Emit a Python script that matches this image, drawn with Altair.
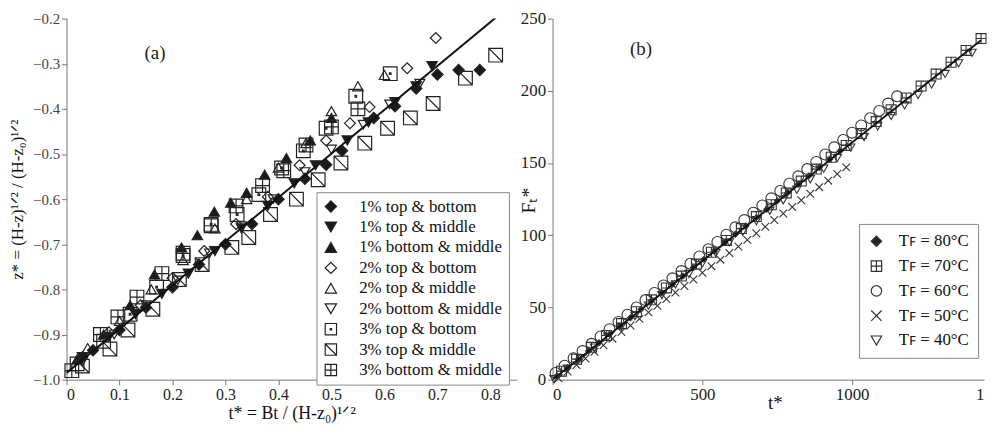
import altair as alt
import pandas as pd

# ---------------- Panel (a) data ----------------
A_NAMES = ["1% top & bottom", "1% top & middle", "1% bottom & middle",
           "2% top & bottom", "2% top & middle", "2% bottom & middle",
           "3% top & bottom", "3% top & middle", "3% bottom & middle"]

A1_T = [0.05, 0.10, 0.15, 0.20, 0.25, 0.30, 0.35, 0.40, 0.45, 0.49, 0.52, 0.58, 0.62, 0.66, 0.70, 0.74, 0.78]
A1_Z = [-0.935, -0.89, -0.84, -0.795, -0.745, -0.70, -0.655, -0.60, -0.555, -0.524, -0.493, -0.42, -0.394, -0.355, -0.324, -0.314, -0.314]

A2_T = [0.03, 0.08, 0.13, 0.18, 0.23, 0.28, 0.33, 0.38, 0.43, 0.47, 0.53, 0.57, 0.62, 0.66, 0.69]
A2_Z = [-0.95, -0.905, -0.855, -0.81, -0.765, -0.715, -0.665, -0.615, -0.565, -0.525, -0.47, -0.43, -0.385, -0.35, -0.305]

A3_T = [0.02, 0.07, 0.12, 0.166, 0.217, 0.247, 0.279, 0.31, 0.34, 0.374, 0.415, 0.46, 0.5]
A3_Z = [-0.955, -0.9, -0.835, -0.767, -0.707, -0.68, -0.628, -0.608, -0.586, -0.546, -0.509, -0.47, -0.42]

A4_T = [0.03, 0.08, 0.14, 0.2, 0.26, 0.32, 0.38, 0.44, 0.49, 0.535, 0.572, 0.643, 0.697]
A4_Z = [-0.95, -0.895, -0.835, -0.775, -0.715, -0.655, -0.595, -0.525, -0.47, -0.432, -0.396, -0.31, -0.243]

A5_T = [0.04, 0.1, 0.16, 0.22, 0.28, 0.34, 0.4, 0.452, 0.5, 0.55, 0.6]
A5_Z = [-0.93, -0.87, -0.8, -0.735, -0.665, -0.6, -0.53, -0.476, -0.405, -0.35, -0.325]

A6_T = [0.03, 0.09, 0.15, 0.21, 0.27, 0.33, 0.39, 0.45, 0.5, 0.56, 0.61, 0.667]
A6_Z = [-0.96, -0.9, -0.835, -0.78, -0.72, -0.66, -0.6, -0.54, -0.49, -0.435, -0.39, -0.344]

A7_T = [0.02, 0.07, 0.12, 0.17, 0.22, 0.273, 0.322, 0.363, 0.406, 0.447, 0.49, 0.546, 0.611]
A7_Z = [-0.965, -0.915, -0.855, -0.795, -0.725, -0.656, -0.634, -0.59, -0.531, -0.493, -0.443, -0.372, -0.322]

A8_T = [0.03, 0.082, 0.116, 0.163, 0.213, 0.256, 0.312, 0.344, 0.385, 0.434, 0.475, 0.518, 0.563, 0.606, 0.649, 0.692, 0.753, 0.81]
A8_Z = [-0.97, -0.932, -0.89, -0.844, -0.778, -0.745, -0.707, -0.685, -0.634, -0.6, -0.557, -0.52, -0.476, -0.443, -0.42, -0.388, -0.332, -0.281]

A9_T = [0.01, 0.064, 0.097, 0.133, 0.18, 0.22, 0.273, 0.32, 0.37, 0.41, 0.452, 0.5, 0.55]
A9_Z = [-0.98, -0.9, -0.861, -0.817, -0.765, -0.72, -0.659, -0.615, -0.57, -0.537, -0.48, -0.44, -0.4]

FIT_A_T = [0.0, 0.81]
FIT_A_Z = [-0.985, -0.198]

A_X_TICKS = [0, 0.1, 0.2, 0.3, 0.4, 0.5, 0.6, 0.7, 0.8]
A_Y_TICKS = [-1.0, -0.9, -0.8, -0.7, -0.6, -0.5, -0.4, -0.3, -0.2]

# ---------------- Panel (b) data ----------------
B_NAMES = ["T\ua730 = 80°C", "T\ua730 = 70°C", "T\ua730 = 60°C", "T\ua730 = 50°C", "T\ua730 = 40°C"]

B80_T = [15, 50, 85, 120, 155, 190, 225, 260, 295, 330, 365, 400, 435, 470, 505, 540, 575, 610, 645, 680, 715, 750, 785, 820, 855, 890, 925, 960]
B80_F = [2.5, 8.3, 14.0, 19.8, 25.6, 31.4, 37.1, 42.9, 48.7, 54.5, 60.2, 66.0, 71.8, 77.6, 83.3, 89.1, 94.9, 100.7, 106.4, 112.2, 118.0, 123.8, 129.5, 135.3, 141.1, 146.9, 152.6, 158.4]

B70_T = [30, 80, 130, 180, 230, 280, 330, 380, 430, 480, 530, 580, 630, 680, 730, 780, 830, 880, 930, 980, 1030, 1080, 1130, 1180, 1230, 1280, 1330, 1380, 1430]
B70_F = [5.9, 14.2, 22.4, 30.6, 38.8, 47.1, 55.3, 63.5, 71.7, 80.0, 88.2, 96.4, 104.6, 112.9, 121.1, 129.3, 137.5, 145.8, 154.0, 162.2, 170.4, 178.7, 186.9, 195.1, 203.3, 211.6, 219.8, 228.0, 236.2]

B60_T = [10, 40, 70, 100, 130, 160, 190, 220, 250, 280, 310, 340, 370, 400, 430, 460, 490, 520, 550, 580, 610, 640, 670, 700, 730, 760, 790, 820, 850, 880, 910, 940, 970, 1000, 1030, 1060, 1090, 1120, 1150]
B60_F = [4.7, 9.7, 14.8, 19.8, 24.8, 29.9, 34.9, 40.0, 45.0, 50.0, 55.1, 60.1, 65.2, 70.2, 75.2, 80.3, 85.3, 90.4, 95.4, 100.4, 105.5, 110.5, 115.6, 120.6, 125.6, 130.7, 135.7, 140.8, 145.8, 150.8, 155.9, 160.9, 166.0, 171.0, 176.0, 181.1, 186.1, 191.2, 196.2]

B50_T = [20, 50, 80, 110, 140, 170, 200, 230, 260, 290, 320, 350, 380, 410, 440, 470, 500, 530, 560, 590, 620, 650, 680, 710, 740, 770, 800, 830, 860, 890, 920, 950, 980]
B50_F = [1.0, 5.6, 10.2, 14.7, 19.3, 23.8, 28.4, 33.0, 37.5, 42.1, 46.6, 51.2, 55.8, 60.3, 64.9, 69.4, 74.0, 78.6, 83.1, 87.7, 92.2, 96.8, 101.4, 105.9, 110.5, 115.0, 119.6, 124.2, 128.7, 133.3, 137.8, 142.4, 147.0]

B40_T = [5, 50, 95, 140, 185, 230, 275, 320, 365, 410, 455, 500, 545, 590, 635, 680, 725, 770, 815, 860, 905, 950, 995, 1040, 1085, 1130, 1175, 1220, 1265, 1310, 1355, 1400]
B40_F = [0.3, 7.6, 14.9, 22.2, 29.5, 36.8, 44.1, 51.3, 58.6, 65.9, 73.2, 80.5, 87.8, 95.1, 102.4, 109.7, 117.0, 124.2, 131.5, 138.8, 146.1, 153.4, 160.7, 168.0, 175.3, 182.6, 189.9, 197.1, 204.4, 211.7, 219.0, 226.3]

FIT_B_T = [0, 1430]
FIT_B_F = [0, 235]

B_X_TICKS = [0, 500, 1000, 1440]
B_Y_TICKS = [0, 50, 100, 150, 200, 250]

# ---------------- styling helpers ----------------
SQ = "M-1,-1H1V1H-1Z"
SQ_DOT = SQ + "M-0.12,-0.12H0.12V0.12H-0.12Z"
SQ_DIAG = SQ + "M-1,-1L1,1"
SQ_PLUS = SQ + "M0,-1V1M-1,0H1"
XMARK = "M-1,-1L1,1M-1,1L1,-1"

A_SHAPES = ["diamond", "triangle-down", "triangle-up", "diamond", "triangle-up", "triangle-down", SQ_DOT, SQ_DIAG, SQ_PLUS]
A_FILLS = ["#1a1a1a", "#1a1a1a", "#1a1a1a"] + ["transparent"] * 6
A_STROKES = ["#222222"] * 9
A_SIZES = [130, 110, 110, 120, 110, 100, 190, 190, 190]

B_SHAPES = ["diamond", SQ_PLUS, "circle", XMARK, "triangle-down"]
B_FILLS = ["#222222", "transparent", "transparent", "transparent", "transparent"]
B_STROKES = ["#333333"] * 5
B_SIZES = [35, 100, 120, 60, 70]

SERIF = "Liberation Serif"


def frame(names, sizes, ts, vs, xname, yname, sname):
    rows = []
    for n, s, tl, vl in zip(names, sizes, ts, vs):
        for t, v in zip(tl, vl):
            rows.append({xname: t, yname: v, sname: n, "sz": s})
    return pd.DataFrame(rows)


df_a = frame(A_NAMES, A_SIZES,
             [A1_T, A2_T, A3_T, A4_T, A5_T, A6_T, A7_T, A8_T, A9_T],
             [A1_Z, A2_Z, A3_Z, A4_Z, A5_Z, A6_Z, A7_Z, A8_Z, A9_Z],
             "t", "z", "series_a")
df_b = frame(B_NAMES, B_SIZES,
             [B80_T, B70_T, B60_T, B50_T, B40_T],
             [B80_F, B70_F, B60_F, B50_F, B40_F],
             "t", "F", "series_b")

# ---------------- Panel (a) ----------------
xa = alt.X("t:Q", scale=alt.Scale(domain=[0, 0.85], nice=False, zero=False),
           axis=alt.Axis(values=A_X_TICKS, format="~g", labelFontSize=16,
                         title="t* = Bt / (H-z\u2080)\u00b9\u141f\u00b2", titleFontSize=18,
                         titleY=25, titleBaseline="top"))
ya = alt.Y("z:Q", scale=alt.Scale(domain=[-1.0, -0.2], nice=False, zero=False),
           axis=alt.Axis(values=A_Y_TICKS, format=".1f", labelFontSize=15, labelColor="#444",
                         title="z* = (H-z)\u00b9\u141f\u00b2 / (H-z\u2080)\u00b9\u141f\u00b2",
                         titleFontSize=17, titlePadding=6))

legend_a = alt.Legend(title=None, orient="none", legendX=252, legendY=175,
                      fillColor="white", strokeColor="#888", padding=6,
                      symbolSize=130, symbolStrokeColor="#222", symbolStrokeWidth=1.2,
                      labelFont=SERIF, labelFontSize=17, labelColor="#111",
                      rowPadding=2.6, labelOffset=20)

pts_a = alt.Chart(df_a).mark_point(opacity=1, strokeWidth=1.2).encode(
    x=xa, y=ya,
    shape=alt.Shape("series_a:N", scale=alt.Scale(domain=A_NAMES, range=A_SHAPES), legend=legend_a),
    fill=alt.Fill("series_a:N", scale=alt.Scale(domain=A_NAMES, range=A_FILLS), legend=legend_a),
    stroke=alt.Stroke("series_a:N", scale=alt.Scale(domain=A_NAMES, range=A_STROKES), legend=legend_a),
    size=alt.Size("sz:Q", scale=None),
)

fit_a = alt.Chart(pd.DataFrame({"t": FIT_A_T, "z": FIT_A_Z})).mark_line(
    color="#111", strokeWidth=2, clip=True).encode(x="t:Q", y="z:Q")

lab_a = alt.Chart(pd.DataFrame({"t": [0.167], "z": [-0.277], "txt": ["(a)"]})).mark_text(
    font=SERIF, fontSize=19, color="#222").encode(x="t:Q", y="z:Q", text="txt:N")

panel_a = alt.layer(pts_a, fit_a, lab_a).properties(width=454, height=364)

# ---------------- Panel (b) ----------------
xb = alt.X("t:Q", scale=alt.Scale(domain=[0, 1440], nice=False, zero=False),
           axis=alt.Axis(values=B_X_TICKS, format="d", labelFontSize=17,
                         labelExpr="datum.value > 1200 ? '1' : datum.label",
                         tickOpacity={"condition": {"test": "datum.value > 1200", "value": 0}, "value": 1},
                         title="t*", titleFontSize=19, titleX=224, titleY=14, titleBaseline="top"))
yb = alt.Y("F:Q", scale=alt.Scale(domain=[0, 250], nice=False, zero=False),
           axis=alt.Axis(values=B_Y_TICKS, labelFontSize=17,
                         title="F\u209c*", titleFontSize=20, titleX=-24, titleY=183,
                         titleBaseline="middle"))

legend_b = alt.Legend(title=None, orient="none", legendX=309, legendY=207,
                      fillColor="white", strokeColor="#888", padding=9,
                      symbolSize=110, symbolStrokeColor="#222", symbolStrokeWidth=1.2,
                      labelFont=SERIF, labelFontSize=17, labelColor="#111",
                      rowPadding=7, labelOffset=14)

pts_b = alt.Chart(df_b).mark_point(opacity=1, strokeWidth=1.1).encode(
    x=xb, y=yb,
    shape=alt.Shape("series_b:N", scale=alt.Scale(domain=B_NAMES, range=B_SHAPES), legend=legend_b),
    fill=alt.Fill("series_b:N", scale=alt.Scale(domain=B_NAMES, range=B_FILLS), legend=legend_b),
    stroke=alt.Stroke("series_b:N", scale=alt.Scale(domain=B_NAMES, range=B_STROKES), legend=legend_b),
    size=alt.Size("sz:Q", scale=None),
)

fit_b = alt.Chart(pd.DataFrame({"t": FIT_B_T, "F": FIT_B_F})).mark_line(
    color="#111", strokeWidth=1.8, clip=True).encode(x="t:Q", y="F:Q")

lab_b = alt.Chart(pd.DataFrame({"t": [295], "F": [229], "txt": ["(b)"]})).mark_text(
    font=SERIF, fontSize=19, color="#222").encode(x="t:Q", y="F:Q", text="txt:N")

panel_b = alt.layer(pts_b, fit_b, lab_b).properties(width=435, height=364)

chart = alt.hconcat(panel_a, panel_b, spacing=2).resolve_scale(
    shape="independent", fill="independent", stroke="independent"
).resolve_legend(shape="independent", fill="independent", stroke="independent").properties(
    padding={"left": 0, "top": 0, "right": 0, "bottom": 0},
    background="white",
).configure_view(stroke=None).configure_axis(
    grid=False, labelFont=SERIF, titleFont=SERIF, titleFontWeight="normal",
    domainColor="#777", tickColor="#777", labelColor="#222", titleColor="#111",
    tickSize=5, labelPadding=2,
)

chart.save("out.html", embed_options={"renderer": "svg", "actions": False})
